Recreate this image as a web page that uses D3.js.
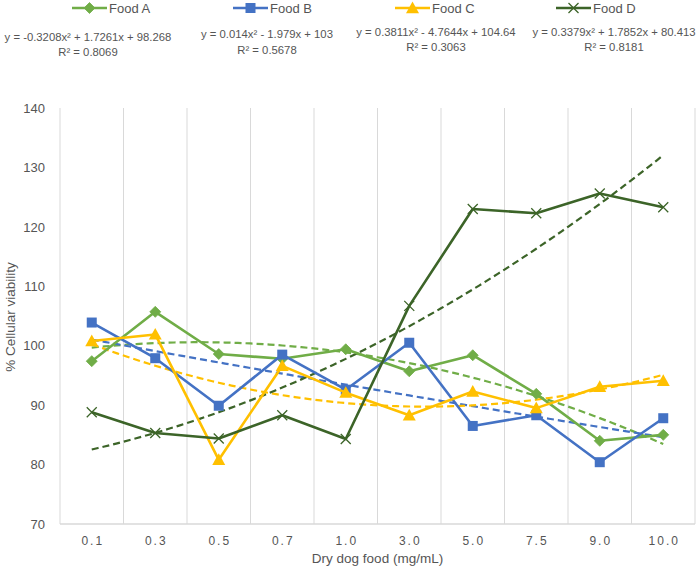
<!DOCTYPE html>
<html>
<head>
<meta charset="utf-8">
<script src="https://cdn.jsdelivr.net/npm/d3@7"></script>
<style>
  html, body { margin: 0; padding: 0; background: #fff; }
  svg { display: block; font-family: "Liberation Sans", Arial, sans-serif; }
</style>
</head>
<body>
<svg id="chart" width="700" height="573"></svg>
<script>
// ---- data ----
const categories = ["0.1", "0.3", "0.5", "0.7", "1.0", "3.0", "5.0", "7.5", "9.0", "10.0"];
const foodA = [97.4, 105.7, 98.6, 97.8, 99.4, 95.7, 98.4, 91.9, 84.0, 85.0];
const foodB = [103.9, 97.9, 89.9, 98.5, 92.6, 100.5, 86.5, 88.3, 80.4, 87.8];
const foodC = [100.8, 101.9, 80.8, 96.6, 92.1, 88.3, 92.3, 89.5, 93.1, 94.1];
const foodD = [88.8, 85.3, 84.4, 88.3, 84.3, 106.7, 123.0, 122.3, 125.6, 123.3];
const yTicks = [70, 80, 90, 100, 110, 120, 130, 140];
const seriesNames = ["Food A", "Food B", "Food C", "Food D"];
// trendline coefficients (a, b, c) for y = a x^2 + b x + c, as printed on the chart
const trendA = [-0.3208, 1.7261, 98.268];
const trendB = [0.014, -1.979, 103];
const trendC = [0.3811, -4.7644, 104.64];
const trendD = [0.3379, 1.7852, 80.413];
const eqTexts = [
  ["y = -0.3208x² + 1.7261x + 98.268", "R² = 0.8069"],
  ["y = 0.014x² - 1.979x + 103", "R² = 0.5678"],
  ["y = 0.3811x² - 4.7644x + 104.64", "R² = 0.3063"],
  ["y = 0.3379x² + 1.7852x + 80.413", "R² = 0.8181"]
];

// ---- styles ----
const colors = ["#70AD47", "#4472C4", "#FFC000", "#3C6428"];
const markers = ["diamond", "square", "triangle", "cross"];
const series = [foodA, foodB, foodC, foodD];
const trends = [trendA, trendB, trendC, trendD];

const svg = d3.select("#chart");
const pLeft = 60, pRight = 695, pTop = 108, pBottom = 524;

const x = d3.scaleBand().domain(categories).range([pLeft, pRight]);
const y = d3.scaleLinear().domain([70, 140]).range([pBottom, pTop]);
const cx = c => x(c) + x.bandwidth() / 2;
const xi = d3.scaleLinear().domain([1, categories.length]).range([cx(categories[0]), cx(categories[categories.length - 1])]);

const gridColor = "#D9D9D9";
const textColor = "#555555";

// vertical gridlines at category boundaries
const grid = svg.append("g");
categories.forEach(c => {
  const gx = x(c);
  grid.append("line").attr("x1", gx).attr("x2", gx).attr("y1", pTop).attr("y2", pBottom)
    .attr("stroke", gridColor).attr("stroke-width", 1);
});
grid.append("line").attr("x1", pRight).attr("x2", pRight).attr("y1", pTop).attr("y2", pBottom)
  .attr("stroke", gridColor).attr("stroke-width", 1);
grid.append("line").attr("x1", pLeft).attr("x2", pRight).attr("y1", pBottom).attr("y2", pBottom)
  .attr("stroke", gridColor).attr("stroke-width", 1.3);

// y axis
const yAxis = svg.append("g").attr("transform", `translate(${pLeft},0)`)
  .call(d3.axisLeft(y).tickValues(yTicks).tickSize(0).tickPadding(15));
yAxis.select(".domain").remove();
yAxis.selectAll("text").attr("fill", textColor).style("font-size", "13px")
  .style("font-family", "'Liberation Sans', Arial, sans-serif");

// x axis
const xAxis = svg.append("g").attr("transform", `translate(0,${pBottom})`)
  .call(d3.axisBottom(x).tickSize(0).tickPadding(12));
xAxis.select(".domain").remove();
xAxis.selectAll("text").attr("fill", textColor).style("font-size", "12px")
  .style("letter-spacing", "2px").attr("dx", "1px")
  .style("font-family", "'Liberation Sans', Arial, sans-serif");

// axis titles
svg.append("text").attr("x", (pLeft + pRight) / 2).attr("y", 563)
  .attr("text-anchor", "middle").attr("fill", textColor).style("font-size", "13.5px")
  .text("Dry dog food (mg/mL)");
svg.append("text").attr("transform", `translate(15,317) rotate(-90)`)
  .attr("text-anchor", "middle").attr("fill", textColor).style("font-size", "13.5px")
  .text("% Cellular viability");

// marker drawing
function drawMarker(g, type, px, py, color) {
  if (type === "diamond") {
    const s = 5.5;
    g.append("path").attr("d", `M${px},${py - s}L${px + s},${py}L${px},${py + s}L${px - s},${py}Z`)
      .attr("fill", color).attr("stroke", color).attr("stroke-width", 0.8);
  } else if (type === "square") {
    const s = 5;
    g.append("rect").attr("x", px - s).attr("y", py - s).attr("width", 2 * s).attr("height", 2 * s)
      .attr("fill", color);
  } else if (type === "triangle") {
    const s = 6.5;
    g.append("path").attr("d", `M${px},${py - s}L${px + s},${py + s * 0.8}L${px - s},${py + s * 0.8}Z`)
      .attr("fill", color);
  } else if (type === "cross") {
    const s = 5;
    g.append("path").attr("d", `M${px - s},${py - s}L${px + s},${py + s}M${px - s},${py + s}L${px + s},${py - s}`)
      .attr("stroke", color).attr("stroke-width", 1.3).attr("fill", "none");
  }
}

// trendlines (drawn first so series lines overlay)
const trendLine = d3.line().x(d => xi(d[0])).y(d => y(d[1]));
trends.forEach((t, si) => {
  const pts = d3.range(1, 10.001, 0.1).map(v => [v, t[0] * v * v + t[1] * v + t[2]]);
  svg.append("path").datum(pts).attr("d", trendLine)
    .attr("fill", "none").attr("stroke", colors[si]).attr("stroke-width", 2.2)
    .attr("stroke-dasharray", "7,4");
});

// series lines and markers
const line = d3.line().x((d, i) => cx(categories[i])).y(d => y(d));
series.forEach((s, si) => {
  const g = svg.append("g");
  g.append("path").datum(s).attr("d", line).attr("fill", "none")
    .attr("stroke", colors[si]).attr("stroke-width", 2.6).attr("stroke-linejoin", "round");
  s.forEach((v, i) => drawMarker(g, markers[si], cx(categories[i]), y(v), colors[si]));
});

// legend
const legendX = [72, 233, 395, 556];
const legend = svg.append("g");
seriesNames.forEach((n, i) => {
  const lx = legendX[i], ly = 8;
  legend.append("line").attr("x1", lx).attr("x2", lx + 35).attr("y1", ly).attr("y2", ly)
    .attr("stroke", colors[i]).attr("stroke-width", 2.6);
  drawMarker(legend, markers[i], lx + 17.5, ly, colors[i]);
  legend.append("text").attr("x", lx + 37).attr("y", ly + 4.5).attr("fill", textColor)
    .style("font-size", "13px").text(n);
});

// equations
const eqCenters = [88, 267, 436, 614];
const eqY = [[40.5, 56], [37.5, 54], [36, 51], [36, 51]];
eqTexts.forEach((e, i) => {
  e.forEach((t, j) => {
    svg.append("text").attr("x", eqCenters[i]).attr("y", eqY[i][j]).attr("text-anchor", "middle")
      .attr("fill", textColor).style("font-size", "11.3px").text(t);
  });
});
</script>
</body>
</html>
